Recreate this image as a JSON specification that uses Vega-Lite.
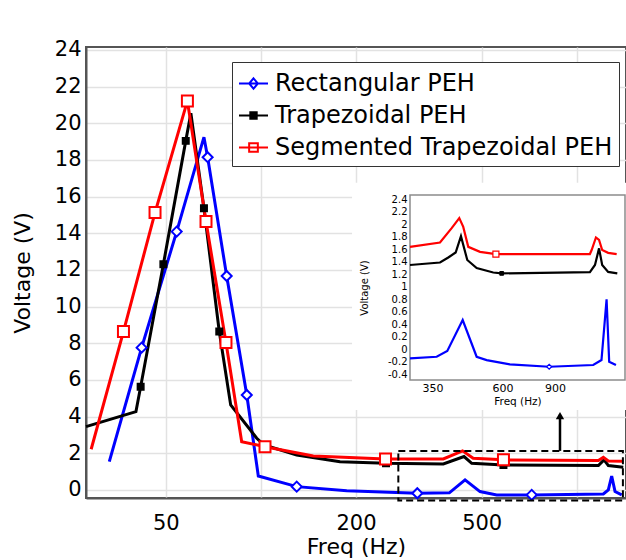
{
  "$schema": "https://vega.github.io/schema/vega-lite/v6.json",
  "width": 540,
  "height": 451,
  "autosize": {"type": "none"},
  "padding": {"left": 86, "top": 47, "right": 0, "bottom": 62},
  "background": "white",
  "config": {
    "font": "DejaVu Sans",
    "view": {"stroke": "#555555", "strokeWidth": 2},
    "axis": {"labelColor": "black", "titleColor": "black", "titleFontWeight": "normal"}
  },
  "datasets": {
    "main": [
      {"s": "Rectangular PEH", "f": 33.1, "v": 1.54, "m": 0},
      {"s": "Rectangular PEH", "f": 41.9, "v": 7.76, "m": 1},
      {"s": "Rectangular PEH", "f": 54.1, "v": 14.09, "m": 1},
      {"s": "Rectangular PEH", "f": 66.0, "v": 19.24, "m": 0},
      {"s": "Rectangular PEH", "f": 67.8, "v": 18.15, "m": 1},
      {"s": "Rectangular PEH", "f": 77.9, "v": 11.67, "m": 1},
      {"s": "Rectangular PEH", "f": 90.2, "v": 5.18, "m": 1},
      {"s": "Rectangular PEH", "f": 98.1, "v": 0.76, "m": 0},
      {"s": "Rectangular PEH", "f": 129.8, "v": 0.18, "m": 1},
      {"s": "Rectangular PEH", "f": 186.9, "v": -0.04, "m": 0},
      {"s": "Rectangular PEH", "f": 312.7, "v": -0.18, "m": 1},
      {"s": "Rectangular PEH", "f": 395, "v": -0.16, "m": 0},
      {"s": "Rectangular PEH", "f": 442.9, "v": 0.55, "m": 0},
      {"s": "Rectangular PEH", "f": 494, "v": -0.09, "m": 0},
      {"s": "Rectangular PEH", "f": 557.8, "v": -0.27, "m": 0},
      {"s": "Rectangular PEH", "f": 720, "v": -0.27, "m": 1},
      {"s": "Rectangular PEH", "f": 1214, "v": -0.22, "m": 0},
      {"s": "Rectangular PEH", "f": 1259, "v": 0, "m": 0},
      {"s": "Rectangular PEH", "f": 1290, "v": 0.76, "m": 0},
      {"s": "Rectangular PEH", "f": 1322, "v": -0.09, "m": 0},
      {"s": "Rectangular PEH", "f": 1388, "v": -0.27, "m": 0},
      {"s": "Trapezoidal PEH", "f": 27.93, "v": 3.45, "m": 0},
      {"s": "Trapezoidal PEH", "f": 40.2, "v": 4.27, "m": 0},
      {"s": "Trapezoidal PEH", "f": 41.6, "v": 5.63, "m": 1},
      {"s": "Trapezoidal PEH", "f": 49.1, "v": 12.31, "m": 1},
      {"s": "Trapezoidal PEH", "f": 57.8, "v": 19.04, "m": 1},
      {"s": "Trapezoidal PEH", "f": 60.0, "v": 20.55, "m": 0},
      {"s": "Trapezoidal PEH", "f": 66.0, "v": 15.37, "m": 1},
      {"s": "Trapezoidal PEH", "f": 73.8, "v": 8.64, "m": 1},
      {"s": "Trapezoidal PEH", "f": 80.2, "v": 4.64, "m": 0},
      {"s": "Trapezoidal PEH", "f": 97, "v": 2.82, "m": 0},
      {"s": "Trapezoidal PEH", "f": 102.3, "v": 2.45, "m": 1},
      {"s": "Trapezoidal PEH", "f": 129.8, "v": 1.91, "m": 0},
      {"s": "Trapezoidal PEH", "f": 178, "v": 1.54, "m": 0},
      {"s": "Trapezoidal PEH", "f": 248.9, "v": 1.45, "m": 1},
      {"s": "Trapezoidal PEH", "f": 378, "v": 1.42, "m": 0},
      {"s": "Trapezoidal PEH", "f": 439.6, "v": 1.82, "m": 0},
      {"s": "Trapezoidal PEH", "f": 465, "v": 1.45, "m": 0},
      {"s": "Trapezoidal PEH", "f": 586, "v": 1.36, "m": 1},
      {"s": "Trapezoidal PEH", "f": 1171, "v": 1.33, "m": 0},
      {"s": "Trapezoidal PEH", "f": 1220, "v": 1.64, "m": 0},
      {"s": "Trapezoidal PEH", "f": 1259, "v": 1.33, "m": 0},
      {"s": "Trapezoidal PEH", "f": 1404, "v": 1.24, "m": 0},
      {"s": "Segmented Trapezoidal PEH", "f": 29.0, "v": 2.22, "m": 0},
      {"s": "Segmented Trapezoidal PEH", "f": 36.7, "v": 8.64, "m": 1},
      {"s": "Segmented Trapezoidal PEH", "f": 46.2, "v": 15.13, "m": 1},
      {"s": "Segmented Trapezoidal PEH", "f": 58.5, "v": 21.22, "m": 1},
      {"s": "Segmented Trapezoidal PEH", "f": 67.0, "v": 14.64, "m": 1},
      {"s": "Segmented Trapezoidal PEH", "f": 77.5, "v": 8.04, "m": 1},
      {"s": "Segmented Trapezoidal PEH", "f": 86.9, "v": 2.63, "m": 0},
      {"s": "Segmented Trapezoidal PEH", "f": 103, "v": 2.36, "m": 1},
      {"s": "Segmented Trapezoidal PEH", "f": 146.5, "v": 1.85, "m": 0},
      {"s": "Segmented Trapezoidal PEH", "f": 248, "v": 1.69, "m": 1},
      {"s": "Segmented Trapezoidal PEH", "f": 378, "v": 1.69, "m": 0},
      {"s": "Segmented Trapezoidal PEH", "f": 435, "v": 2.13, "m": 0},
      {"s": "Segmented Trapezoidal PEH", "f": 470, "v": 1.73, "m": 0},
      {"s": "Segmented Trapezoidal PEH", "f": 586, "v": 1.64, "m": 1},
      {"s": "Segmented Trapezoidal PEH", "f": 1171, "v": 1.6, "m": 0},
      {"s": "Segmented Trapezoidal PEH", "f": 1214, "v": 1.78, "m": 0},
      {"s": "Segmented Trapezoidal PEH", "f": 1259, "v": 1.58, "m": 0},
      {"s": "Segmented Trapezoidal PEH", "f": 1404, "v": 1.56, "m": 0}
    ],
    "inset": [
      {"s": "Segmented Trapezoidal PEH", "f": 294.3, "v": 1.64, "m": 0},
      {"s": "Segmented Trapezoidal PEH", "f": 370.9, "v": 1.71, "m": 0},
      {"s": "Segmented Trapezoidal PEH", "f": 405.8, "v": 1.94, "m": 0},
      {"s": "Segmented Trapezoidal PEH", "f": 430.3, "v": 2.10, "m": 0},
      {"s": "Segmented Trapezoidal PEH", "f": 443.7, "v": 1.96, "m": 0},
      {"s": "Segmented Trapezoidal PEH", "f": 461.2, "v": 1.64, "m": 0},
      {"s": "Segmented Trapezoidal PEH", "f": 504.9, "v": 1.56, "m": 0},
      {"s": "Segmented Trapezoidal PEH", "f": 570.7, "v": 1.525, "m": 1},
      {"s": "Segmented Trapezoidal PEH", "f": 1177.8, "v": 1.525, "m": 0},
      {"s": "Segmented Trapezoidal PEH", "f": 1194, "v": 1.59, "m": 0},
      {"s": "Segmented Trapezoidal PEH", "f": 1234, "v": 1.79, "m": 0},
      {"s": "Segmented Trapezoidal PEH", "f": 1264, "v": 1.75, "m": 0},
      {"s": "Segmented Trapezoidal PEH", "f": 1295, "v": 1.59, "m": 0},
      {"s": "Segmented Trapezoidal PEH", "f": 1356, "v": 1.545, "m": 0},
      {"s": "Segmented Trapezoidal PEH", "f": 1448, "v": 1.525, "m": 0},
      {"s": "Trapezoidal PEH", "f": 294.3, "v": 1.35, "m": 0},
      {"s": "Trapezoidal PEH", "f": 370.9, "v": 1.39, "m": 0},
      {"s": "Trapezoidal PEH", "f": 395.3, "v": 1.47, "m": 0},
      {"s": "Trapezoidal PEH", "f": 418.5, "v": 1.55, "m": 0},
      {"s": "Trapezoidal PEH", "f": 435.9, "v": 1.81, "m": 0},
      {"s": "Trapezoidal PEH", "f": 457.7, "v": 1.43, "m": 0},
      {"s": "Trapezoidal PEH", "f": 492, "v": 1.30, "m": 0},
      {"s": "Trapezoidal PEH", "f": 559, "v": 1.23, "m": 0},
      {"s": "Trapezoidal PEH", "f": 596.7, "v": 1.216, "m": 1},
      {"s": "Trapezoidal PEH", "f": 1178, "v": 1.237, "m": 0},
      {"s": "Trapezoidal PEH", "f": 1225, "v": 1.35, "m": 0},
      {"s": "Trapezoidal PEH", "f": 1264, "v": 1.616, "m": 0},
      {"s": "Trapezoidal PEH", "f": 1295, "v": 1.35, "m": 0},
      {"s": "Trapezoidal PEH", "f": 1356, "v": 1.24, "m": 0},
      {"s": "Trapezoidal PEH", "f": 1455, "v": 1.216, "m": 0},
      {"s": "Rectangular PEH", "f": 294.3, "v": -0.144, "m": 0},
      {"s": "Rectangular PEH", "f": 361.5, "v": -0.118, "m": 0},
      {"s": "Rectangular PEH", "f": 392.3, "v": -0.027, "m": 0},
      {"s": "Rectangular PEH", "f": 441.8, "v": 0.469, "m": 0},
      {"s": "Rectangular PEH", "f": 492, "v": -0.118, "m": 0},
      {"s": "Rectangular PEH", "f": 531.3, "v": -0.171, "m": 0},
      {"s": "Rectangular PEH", "f": 635.8, "v": -0.24, "m": 0},
      {"s": "Rectangular PEH", "f": 860.6, "v": -0.278, "m": 1},
      {"s": "Rectangular PEH", "f": 1208.6, "v": -0.25, "m": 0},
      {"s": "Rectangular PEH", "f": 1288, "v": -0.171, "m": 0},
      {"s": "Rectangular PEH", "f": 1339.6, "v": 0.80, "m": 0},
      {"s": "Rectangular PEH", "f": 1366.8, "v": -0.198, "m": 0},
      {"s": "Rectangular PEH", "f": 1440, "v": -0.25, "m": 0}
    ],
    "bg": [{"f": 194.3, "f2": 1500, "v": 4.36, "v2": 16.75}],
    "box": [{"f": 272.3, "f2": 1400, "v": -0.58, "v2": 2.13}],
    "arrow": [{"f": 885, "v": 2.13, "v2": 4.1}],
    "tip": [{"f": 885, "v": 4.05}],
    "frame": [{"f": 294.3, "f2": 1544, "v": -0.49, "v2": 2.47}]
  },
  "resolve": {"scale": {"x": "independent", "y": "independent"}},
  "layer": [
    {
      "encoding": {
        "x": {
          "field": "f", "type": "quantitative",
          "scale": {"type": "log", "domain": [27.93, 1432], "nice": false},
          "axis": {
            "title": "Freq (Hz)", "values": [50, 100, 200, 500, 1000],
            "labelExpr": "datum.value == 100 || datum.value == 1000 ? '' : toString(datum.value)",
            "labelFontSize": 21, "titleFontSize": 22, "labelPadding": 14, "titlePadding": 3,
            "ticks": false, "domainColor": "#555555", "domainWidth": 2,
            "gridColor": "#e2e2e2", "gridWidth": 1.5, "labelFlush": false, "labelOverlap": false
          }
        },
        "y": {
          "field": "v", "type": "quantitative",
          "scale": {"domain": [-0.44, 24.16], "nice": false, "zero": false},
          "axis": {
            "title": "Voltage (V)", "values": [0, 2, 4, 6, 8, 10, 12, 14, 16, 18, 20, 22, 24],
            "labelFontSize": 21, "titleFontSize": 22, "labelPadding": 5, "titlePadding": 20,
            "ticks": false, "domainColor": "#555555", "domainWidth": 2,
            "gridColor": "#e2e2e2", "gridWidth": 1.5, "labelOverlap": false
          }
        },
        "color": {
          "field": "s", "type": "nominal",
          "scale": {"domain": ["Rectangular PEH", "Trapezoidal PEH", "Segmented Trapezoidal PEH"], "range": ["#0000ff", "#000000", "#ff0000"]},
          "legend": {
            "orient": "none", "legendX": 146, "legendY": 15, "title": null, "direction": "vertical",
            "fillColor": "white", "strokeColor": "#333333", "padding": 6,
            "labelFontSize": 24, "labelColor": "black", "labelOffset": 6, "labelLimit": 600, "rowPadding": 4,
            "symbolSize": 841, "symbolStrokeWidth": 2, "symbolType": "M-1,0H1", "symbolFillColor": "white",
            "encode": {
              "symbols": {
                "update": {
                  "shape": {"signal": "datum.value === 'Rectangular PEH' ? 'M-1,0H1M0,-0.36L0.3,0L0,0.36L-0.3,0Z' : datum.value === 'Trapezoidal PEH' ? 'M-1,0H1M-0.22,-0.22H0.22V0.22H-0.22Z' : 'M-1,0H1M-0.3,-0.3H0.3V0.3H-0.3Z'"},
                  "fill": {"signal": "datum.value === 'Trapezoidal PEH' ? 'black' : 'white'"},
                  "strokeWidth": {"value": 2},
                  "opacity": {"value": 1}
                }
              }
            }
          }
        }
      },
      "layer": [
        {
          "data": {"name": "main"},
          "mark": {"type": "line", "strokeWidth": 3}
        },
        {
          "data": {"name": "main"},
          "transform": [{"filter": "datum.m == 1 && datum.s == 'Rectangular PEH'"}],
          "mark": {"type": "point", "shape": "diamond", "filled": false, "fill": "white", "size": 100, "strokeWidth": 2, "opacity": 1}
        },
        {
          "data": {"name": "main"},
          "transform": [{"filter": "datum.m == 1 && datum.s == 'Trapezoidal PEH'"}],
          "mark": {"type": "point", "shape": "square", "filled": false, "fill": "black", "size": 42, "strokeWidth": 1.5, "opacity": 1}
        },
        {
          "data": {"name": "main"},
          "transform": [{"filter": "datum.m == 1 && datum.s == 'Segmented Trapezoidal PEH'"}],
          "mark": {"type": "point", "shape": "square", "filled": false, "fill": "white", "size": 121, "strokeWidth": 2, "opacity": 1}
        },
        {
          "data": {"name": "bg"},
          "mark": {"type": "rect", "fill": "white"},
          "encoding": {"x2": {"field": "f2"}, "y2": {"field": "v2"}, "color": {"value": "white"}}
        },
        {
          "data": {"name": "box"},
          "mark": {"type": "rect", "filled": false, "stroke": "black", "strokeWidth": 2, "strokeDash": [7, 4]},
          "encoding": {"x2": {"field": "f2"}, "y2": {"field": "v2"}, "color": {"value": "black"}}
        },
        {
          "data": {"name": "arrow"},
          "mark": {"type": "rule", "strokeWidth": 2.5},
          "encoding": {"y2": {"field": "v2"}, "color": {"value": "black"}}
        },
        {
          "data": {"name": "tip"},
          "mark": {"type": "point", "shape": "triangle-up", "filled": true, "size": 70, "opacity": 1},
          "encoding": {"color": {"value": "black"}}
        }
      ]
    },
    {
      "encoding": {
        "x": {
          "field": "f", "type": "quantitative",
          "scale": {"type": "log", "domain": [294.3, 1544], "range": [324, 539], "nice": false},
          "axis": {
            "orient": "bottom", "offset": -118, "title": "Freq (Hz)",
            "values": [350, 400, 450, 500, 550, 600, 700, 800, 900, 1000, 1200, 1400],
            "labelExpr": "indexof([350, 600, 900], datum.value) >= 0 ? toString(datum.value) : ''",
            "labelFontSize": 11, "titleFontSize": 10.5, "labelPadding": 2, "titlePadding": 3,
            "ticks": false, "domain": false, "gridColor": "#e6e6e6", "gridWidth": 1, "zindex": 1,
            "labelFlush": false, "labelOverlap": false
          }
        },
        "y": {
          "field": "v", "type": "quantitative",
          "scale": {"domain": [-0.49, 2.47], "range": [333, 148], "nice": false, "zero": false},
          "axis": {
            "orient": "left", "offset": -324, "title": "Voltage (V)",
            "values": [-0.4, -0.2, 0, 0.2, 0.4, 0.6, 0.8, 1, 1.2, 1.4, 1.6, 1.8, 2, 2.2, 2.4],
            "labelExpr": "toString(datum.value)",
            "labelFontSize": 10, "titleFontSize": 10, "labelPadding": 3, "titlePadding": 18,
            "ticks": false, "domain": false, "gridColor": "#e6e6e6", "gridWidth": 1, "zindex": 1,
            "labelOverlap": false
          }
        },
        "color": {"field": "s", "type": "nominal"}
      },
      "layer": [
        {
          "data": {"name": "frame"},
          "mark": {"type": "rect", "filled": false, "stroke": "#8c8c8c", "strokeWidth": 1.5},
          "encoding": {"x2": {"field": "f2"}, "y2": {"field": "v2"}, "color": {"value": "#8c8c8c"}}
        },
        {
          "data": {"name": "inset"},
          "mark": {"type": "line", "strokeWidth": 2.2}
        },
        {
          "data": {"name": "inset"},
          "transform": [{"filter": "datum.m == 1 && datum.s == 'Rectangular PEH'"}],
          "mark": {"type": "point", "shape": "diamond", "filled": false, "fill": "white", "size": 25, "strokeWidth": 1.2, "opacity": 1}
        },
        {
          "data": {"name": "inset"},
          "transform": [{"filter": "datum.m == 1 && datum.s == 'Trapezoidal PEH'"}],
          "mark": {"type": "point", "shape": "square", "filled": false, "fill": "black", "size": 14, "strokeWidth": 1, "opacity": 1}
        },
        {
          "data": {"name": "inset"},
          "transform": [{"filter": "datum.m == 1 && datum.s == 'Segmented Trapezoidal PEH'"}],
          "mark": {"type": "point", "shape": "square", "filled": false, "fill": "white", "size": 36, "strokeWidth": 1.2, "opacity": 1}
        }
      ]
    }
  ]
}
